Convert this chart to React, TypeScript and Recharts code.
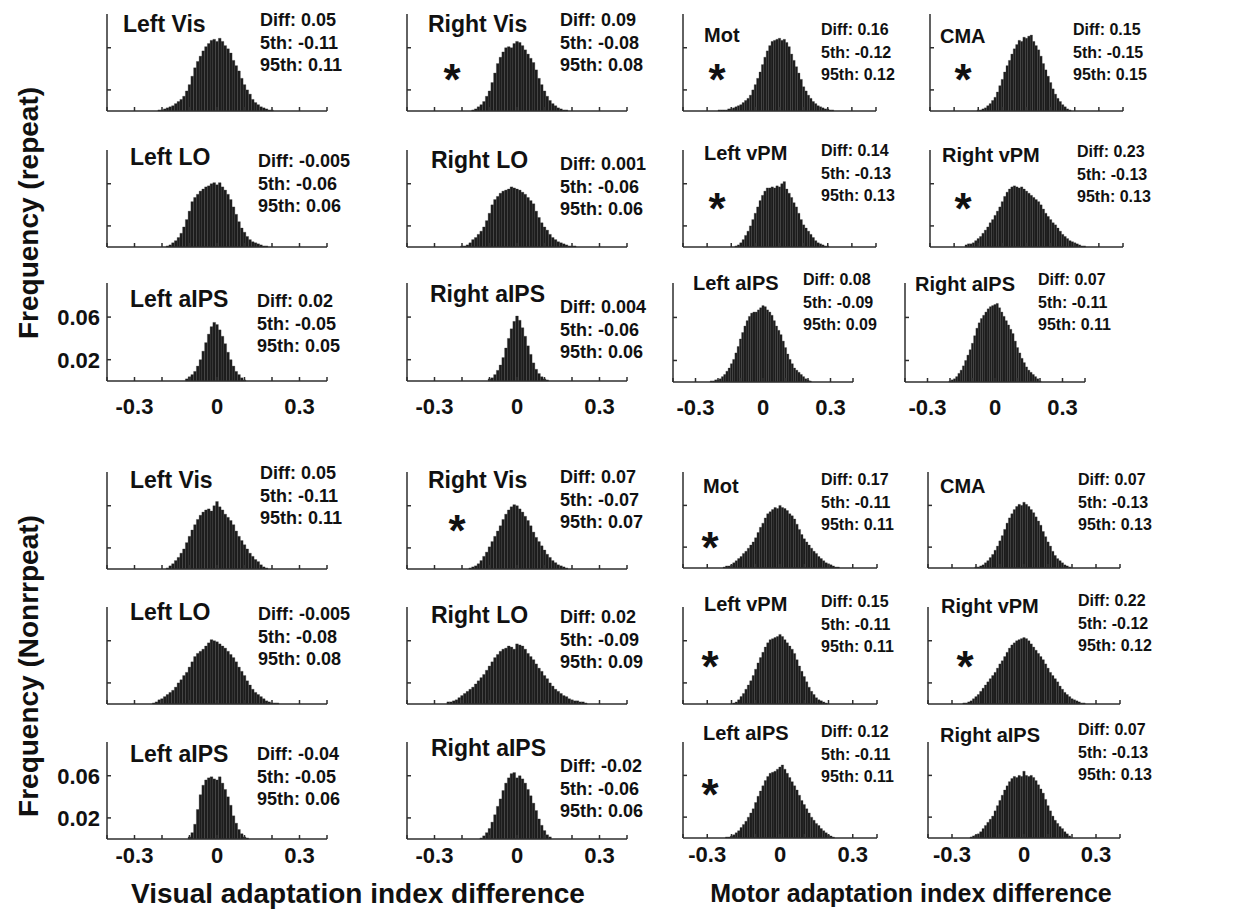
import React from 'react';
import { BarChart, Bar, XAxis, YAxis } from 'recharts';

// bin centres of every histogram (adaptation index difference)
const bins = [
  -0.25, -0.24, -0.23, -0.22, -0.21, -0.2, -0.19, -0.18, -0.17, -0.16, -0.15, -0.14, -0.13,
  -0.12, -0.11, -0.1, -0.09, -0.08, -0.07, -0.06, -0.05, -0.04, -0.03, -0.02, -0.01, 0,
  0.01, 0.02, 0.03, 0.04, 0.05, 0.06, 0.07, 0.08, 0.09, 0.1, 0.11, 0.12, 0.13, 0.14, 0.15,
  0.16, 0.17, 0.18, 0.19, 0.2, 0.21, 0.22, 0.23, 0.24, 0.25,
];

const xTicks = [-0.4, -0.3, -0.2, -0.1, 0, 0.1, 0.2, 0.3, 0.4];
const xLabelValues = [-0.3, 0, 0.3];
const xLabelTexts = ['-0.3', '0', '0.3'];
// frequency is kept in per mille
const yTicks = [20, 60];
const yLabelTexts = ['0.02', '0.06'];
const Y_MAX = 92;

// ---- repeat condition (per mille per bin) ----
const leftVisRep = [0,0,0,0,1,1,2,3,4,5,7,9,11,14,19,25,33,41,47,52,57,61,64,67,68,66,69,66,62,59,55,48,43,38,31,25,20,16,11,8,6,4,3,2,1,1,0,0,0,0,0];
const rightVisRep = [0,0,0,0,0,0,0,0,0,1,2,4,6,9,14,19,27,36,45,51,56,60,61,60,64,66,65,62,58,54,50,46,39,31,25,19,14,10,7,5,3,2,1,1,0,0,0,0,0,0,0];
const motRep = [1,1,1,1,2,2,3,4,5,6,8,10,12,15,20,25,31,37,44,51,57,62,66,67,68,69,67,68,65,61,54,48,42,36,30,23,19,15,12,9,7,5,4,3,2,2,1,1,0,0,0];
const cmaRep = [0,0,0,0,0,1,1,2,3,5,7,10,13,18,24,30,37,43,48,54,59,63,67,66,70,69,71,72,66,62,58,52,45,39,33,27,21,16,12,9,6,4,2,1,0,0,0,0,0,0,0];
const leftLoRep = [0,0,0,0,0,0,0,1,2,4,6,9,13,19,26,34,43,47,50,53,55,57,58,60,61,59,61,57,54,50,45,38,31,24,18,14,10,7,5,4,3,2,1,1,0,0,0,0,0,0,0];
const rightLoRep = [0,0,0,0,0,1,1,2,4,7,9,12,15,19,25,32,40,45,48,51,53,54,55,57,56,55,54,52,50,47,44,41,34,28,23,19,16,12,9,7,5,4,3,2,1,1,1,0,0,0,0];
const leftVpmRep = [0,0,0,0,0,0,0,1,2,4,7,11,15,20,26,32,38,44,49,53,56,56,57,56,58,57,60,62,55,51,47,42,38,32,26,21,18,15,12,9,6,4,3,2,1,1,0,0,0,0,0];
const rightVpmRep = [2,3,3,4,6,8,10,13,16,19,23,26,30,34,38,43,48,52,55,57,58,57,56,57,55,53,51,49,47,45,43,40,36,32,29,26,23,21,18,15,12,10,8,6,5,4,3,2,1,1,0];
const leftAipsVisRep = [0,0,0,0,0,0,0,0,0,0,0,0,0,0,2,4,6,9,14,20,28,36,44,51,55,53,48,42,35,27,20,14,9,6,3,1,0,0,0,0,0,0,0,0,0,0,0,0,0,0,0];
const rightAipsVisRep = [0,0,0,0,0,0,0,0,0,0,0,0,0,0,0,2,3,6,10,15,22,31,40,49,56,61,57,50,42,33,25,17,11,7,4,2,1,0,0,0,0,0,0,0,0,0,0,0,0,0,0];
const leftAipsMotRep = [0,0,1,1,2,2,3,5,7,10,13,17,21,27,33,40,46,52,57,61,64,65,65,67,69,71,70,67,65,62,57,52,48,44,38,32,26,21,17,13,11,9,7,5,3,2,1,0,0,0,0];
const rightAipsMotRep = [0,0,0,0,0,1,2,3,5,8,11,15,20,25,30,36,43,50,55,59,62,65,68,70,71,72,73,69,65,61,57,53,49,45,38,32,27,22,18,14,11,9,7,5,3,1,0,0,0,0,0];

// ---- nonrepeat condition ----
const leftVisNon = [0,0,0,0,0,0,0,1,3,5,8,11,15,19,25,31,37,42,47,51,54,56,57,55,60,64,59,56,52,49,46,42,36,31,27,23,19,15,12,9,7,4,2,1,0,0,0,0,0,0,0];
const rightVisNon = [0,0,0,0,0,0,0,0,1,2,3,5,8,12,16,21,26,31,36,41,47,52,56,59,61,60,57,54,50,46,41,35,30,26,22,18,14,11,8,6,4,3,2,1,0,0,0,0,0,0,0];
const motNon = [0,0,1,2,2,3,5,7,9,11,14,16,19,22,25,29,34,39,43,48,52,54,56,58,57,60,58,57,55,52,50,47,42,37,32,28,25,22,19,16,14,11,9,7,5,4,3,2,1,1,0];
const cmaNon = [0,0,0,0,0,1,1,2,3,5,7,10,13,17,21,26,31,37,43,48,52,56,59,61,60,63,61,59,56,53,49,45,41,35,30,25,21,16,12,9,7,5,3,2,1,0,0,0,0,0,0];
const leftLoNon = [0,0,1,2,4,5,7,9,11,13,16,20,23,27,30,35,40,45,48,50,52,55,58,61,60,59,57,55,53,50,47,44,40,35,31,27,22,18,14,11,9,7,5,3,2,1,1,1,0,0,0];
const rightLoNon = [2,2,3,4,6,8,10,12,14,16,19,22,25,28,32,36,40,44,47,50,52,53,55,54,52,57,56,55,52,48,45,42,38,34,31,27,24,20,17,14,12,10,8,7,5,4,3,3,2,2,1];
const leftVpmNon = [0,0,0,0,0,0,1,2,4,7,10,14,18,22,27,33,39,44,49,54,58,61,62,63,64,66,64,61,58,55,52,48,42,36,31,26,21,16,12,9,6,4,3,2,1,0,0,0,0,0,0];
const rightVpmNon = [1,1,2,3,5,7,9,12,15,18,21,24,27,30,34,38,41,45,49,53,56,58,60,61,62,63,62,60,57,54,51,48,45,42,38,34,30,27,24,21,17,14,11,9,7,5,4,3,2,1,1];
const leftAipsVisNon = [0,0,0,0,0,0,0,0,0,0,0,0,0,0,0,2,6,14,28,42,51,56,58,59,57,56,59,53,47,40,32,22,15,9,5,2,1,0,0,0,0,0,0,0,0,0,0,0,0,0,0];
const rightAipsVisNon = [0,0,0,0,0,0,0,0,0,0,0,0,1,3,6,10,16,23,31,38,46,53,58,62,63,58,60,57,53,47,41,34,27,19,13,8,4,2,0,0,0,0,0,0,0,0,0,0,0,0,0];
const leftAipsMotNon = [0,0,0,1,1,2,3,5,7,10,13,16,20,24,28,34,40,45,50,55,59,62,63,64,66,68,70,66,62,58,54,50,46,41,36,32,28,24,20,17,14,12,9,7,5,3,2,1,0,0,0];
const rightAipsMotNon = [0,0,0,1,2,3,4,6,9,12,15,18,21,26,31,36,41,46,50,54,57,59,58,60,59,64,60,59,60,58,55,51,47,43,37,31,26,21,17,14,11,9,6,4,2,0,0,0,0,0,0];

// panel texts, same order in both blocks
const regions = ['Left Vis', 'Right Vis', 'Mot', 'CMA', 'Left LO', 'Right LO', 'Left vPM', 'Right vPM', 'Left aIPS', 'Right aIPS', 'Left aIPS', 'Right aIPS'];
const diffRep = ['0.05', '0.09', '0.16', '0.15', '-0.005', '0.001', '0.14', '0.23', '0.02', '0.004', '0.08', '0.07'];
const p5Rep = ['-0.11', '-0.08', '-0.12', '-0.15', '-0.06', '-0.06', '-0.13', '-0.13', '-0.05', '-0.06', '-0.09', '-0.11'];
const p95Rep = ['0.11', '0.08', '0.12', '0.15', '0.06', '0.06', '0.13', '0.13', '0.05', '0.06', '0.09', '0.11'];
const sigRep = [false, true, true, true, false, false, true, true, false, false, false, false];
const diffNon = ['0.05', '0.07', '0.17', '0.07', '-0.005', '0.02', '0.15', '0.22', '-0.04', '-0.02', '0.12', '0.07'];
const p5Non = ['-0.11', '-0.07', '-0.11', '-0.13', '-0.08', '-0.09', '-0.11', '-0.12', '-0.05', '-0.06', '-0.11', '-0.13'];
const p95Non = ['0.11', '0.07', '0.11', '0.13', '0.08', '0.09', '0.11', '0.12', '0.06', '0.06', '0.11', '0.13'];
const sigNon = [false, true, true, false, false, false, true, true, false, false, true, false];

const seriesRep = [leftVisRep, rightVisRep, motRep, cmaRep, leftLoRep, rightLoRep, leftVpmRep, rightVpmRep, leftAipsVisRep, rightAipsVisRep, leftAipsMotRep, rightAipsMotRep];
const seriesNon = [leftVisNon, rightVisNon, motNon, cmaNon, leftLoNon, rightLoNon, leftVpmNon, rightVpmNon, leftAipsVisNon, rightAipsVisNon, leftAipsMotNon, rightAipsMotNon];

// layout: [axisLeft, axisRight, axisTop, baseline], title [x, baseline], stats [x, baseline], star [cx, cy]
type Layout = { box: number[]; title: number[]; stats: number[]; star: number[] };
const layoutRep: Layout[] = [
  { box: [107, 327, 14, 111], title: [123, 32], stats: [260, 26], star: [0, 0] },
  { box: [407, 627, 14, 111], title: [428, 32], stats: [560, 26], star: [452, 70] },
  { box: [683, 876, 14, 111], title: [704, 42], stats: [821, 35], star: [717, 70] },
  { box: [930, 1123, 14, 111], title: [940, 43], stats: [1073, 35], star: [963, 70] },
  { box: [107, 327, 150, 247], title: [130, 165], stats: [258, 167], star: [0, 0] },
  { box: [407, 627, 150, 247], title: [431, 168], stats: [560, 170], star: [0, 0] },
  { box: [683, 876, 150, 247], title: [704, 160], stats: [821, 156], star: [717, 199] },
  { box: [930, 1123, 150, 247], title: [942, 162], stats: [1077, 157], star: [963, 199] },
  { box: [107, 327, 283, 381], title: [130, 307], stats: [257, 307], star: [0, 0] },
  { box: [407, 627, 283, 381], title: [430, 302], stats: [560, 313], star: [0, 0] },
  { box: [673, 853, 283, 382], title: [693, 290], stats: [803, 285], star: [0, 0] },
  { box: [905, 1085, 283, 382], title: [915, 291], stats: [1038, 285], star: [0, 0] },
];
const layoutNon: Layout[] = [
  { box: [107, 327, 472, 569], title: [130, 488], stats: [260, 479], star: [0, 0] },
  { box: [407, 627, 472, 569], title: [428, 488], stats: [560, 483], star: [457, 521] },
  { box: [683, 877, 472, 568], title: [703, 493], stats: [821, 485], star: [710, 538] },
  { box: [928, 1120, 472, 568], title: [940, 493], stats: [1078, 485], star: [0, 0] },
  { box: [107, 327, 607, 704], title: [130, 620], stats: [258, 620], star: [0, 0] },
  { box: [407, 627, 607, 704], title: [431, 623], stats: [560, 623], star: [0, 0] },
  { box: [683, 877, 607, 704], title: [704, 611], stats: [821, 607], star: [710, 657] },
  { box: [928, 1120, 607, 704], title: [941, 613], stats: [1078, 606], star: [965, 657] },
  { box: [107, 327, 742, 839], title: [130, 762], stats: [257, 760], star: [0, 0] },
  { box: [407, 627, 742, 839], title: [431, 756], stats: [560, 772], star: [0, 0] },
  { box: [683, 877, 742, 838], title: [703, 740], stats: [821, 737], star: [710, 785] },
  { box: [928, 1120, 742, 838], title: [940, 742], stats: [1078, 735], star: [0, 0] },
];

const FONT = '"Liberation Sans", Arial, Helvetica, sans-serif';
const AXIS = '#2e2e2e';
const INK = '#111';
const Y_W = 60;
const X_H = 45;

const xLabelOf = (v: number) => {
  const i = xLabelValues.findIndex((t) => Math.abs(t - v) < 1e-6);
  return i >= 0 ? xLabelTexts[i] : '';
};
const yLabelOf = (v: number) => {
  const i = yTicks.indexOf(v);
  return i >= 0 ? yLabelTexts[i] : '';
};

type HistProps = { series: number[]; box: number[]; xLabels: boolean; yLabels: boolean; tickGap: number };

const Histogram: React.FC<HistProps> = ({ series, box, xLabels, yLabels, tickGap }) => {
  const [x0, x1, yT, yB] = box;
  const plotW = x1 - x0;
  const plotH = yB - yT;
  const rows = bins.map((x, i) => ({ x, f: series[i] }));
  const barSize = ((plotW * 0.01) / 0.8) * 0.99;
  return (
    <div style={{ position: 'absolute', left: x0 - Y_W, top: yT }}>
      <BarChart
        width={Y_W + plotW + 4}
        height={plotH + X_H}
        data={rows}
        margin={{ top: 0, right: 4, bottom: 0, left: 0 }}
        barCategoryGap={0}
        barGap={0}
      >
        <XAxis
          dataKey="x"
          type="number"
          domain={[-0.4, 0.4]}
          ticks={xTicks}
          interval={0}
          height={X_H}
          tickSize={-4}
          tickMargin={tickGap}
          stroke={AXIS}
          strokeWidth={1.5}
          tick={{ fill: INK, fontSize: 22, fontWeight: 'bold', fontFamily: FONT }}
          tickFormatter={(v: number) => (xLabels ? xLabelOf(v) : '')}
        />
        <YAxis
          type="number"
          domain={[0, Y_MAX]}
          ticks={yTicks}
          width={Y_W}
          tickSize={-4}
          tickMargin={11}
          stroke={AXIS}
          strokeWidth={1.5}
          tick={{ fill: INK, fontSize: 22, fontWeight: 'bold', fontFamily: FONT }}
          tickFormatter={(v: number) => (yLabels ? yLabelOf(v) : '')}
        />
        <Bar dataKey="f" fill="#1c1c1c" stroke="#3a3a3a" strokeWidth={0.3} barSize={barSize} isAnimationActive={false} />
      </BarChart>
    </div>
  );
};

const PanelText: React.FC<{ i: number; lay: Layout; diff: string; p5: string; p95: string; sig: boolean }> = ({ i, lay, diff, p5, p95, sig }) => {
  const motor = i % 4 >= 2 || i >= 10;
  const titleSize = motor ? 20 : 23;
  const statSize = motor ? 16 : 18;
  const step = motor ? 22.5 : 22.5;
  return (
    <g fontFamily={FONT} fontWeight="bold" fill={INK}>
      <text x={lay.title[0]} y={lay.title[1]} fontSize={titleSize}>{regions[i]}</text>
      <text x={lay.stats[0]} y={lay.stats[1]} fontSize={statSize}>{`Diff: ${diff}`}</text>
      <text x={lay.stats[0]} y={lay.stats[1] + step} fontSize={statSize}>{`5th: ${p5}`}</text>
      <text x={lay.stats[0]} y={lay.stats[1] + step * 2} fontSize={statSize}>{`95th: ${p95}`}</text>
      {sig && (
        <text x={lay.star[0]} y={lay.star[1] + 25} fontSize={44} textAnchor="middle">*</text>
      )}
    </g>
  );
};

export default function App() {
  return (
    <div style={{ position: 'absolute', left: 0, top: 0, width: 1237, height: 909, background: '#fff', overflow: 'hidden' }}>
      {layoutRep.map((lay, i) => (
        <Histogram key={`r${i}`} series={seriesRep[i]} box={lay.box} xLabels={i >= 8} yLabels={i === 8} tickGap={21} />
      ))}
      {layoutNon.map((lay, i) => (
        <Histogram key={`n${i}`} series={seriesNon[i]} box={lay.box} xLabels={i >= 8} yLabels={i === 8} tickGap={12} />
      ))}
      <svg width={1237} height={909} style={{ position: 'absolute', left: 0, top: 0, pointerEvents: 'none' }}>
        {layoutRep.map((lay, i) => (
          <PanelText key={`tr${i}`} i={i} lay={lay} diff={diffRep[i]} p5={p5Rep[i]} p95={p95Rep[i]} sig={sigRep[i]} />
        ))}
        {layoutNon.map((lay, i) => (
          <PanelText key={`tn${i}`} i={i} lay={lay} diff={diffNon[i]} p5={p5Non[i]} p95={p95Non[i]} sig={sigNon[i]} />
        ))}
        <g fontFamily={FONT} fontWeight="bold" fill={INK} textAnchor="middle">
          <text transform="translate(38,213) rotate(-90)" fontSize={28}>Frequency (repeat)</text>
          <text transform="translate(38,666) rotate(-90)" fontSize={28}>Frequency (Nonrrpeat)</text>
          <text x={358} y={903} fontSize={28}>Visual adaptation index difference</text>
          <text x={911} y={902} fontSize={25}>Motor adaptation index difference</text>
        </g>
      </svg>
    </div>
  );
}
